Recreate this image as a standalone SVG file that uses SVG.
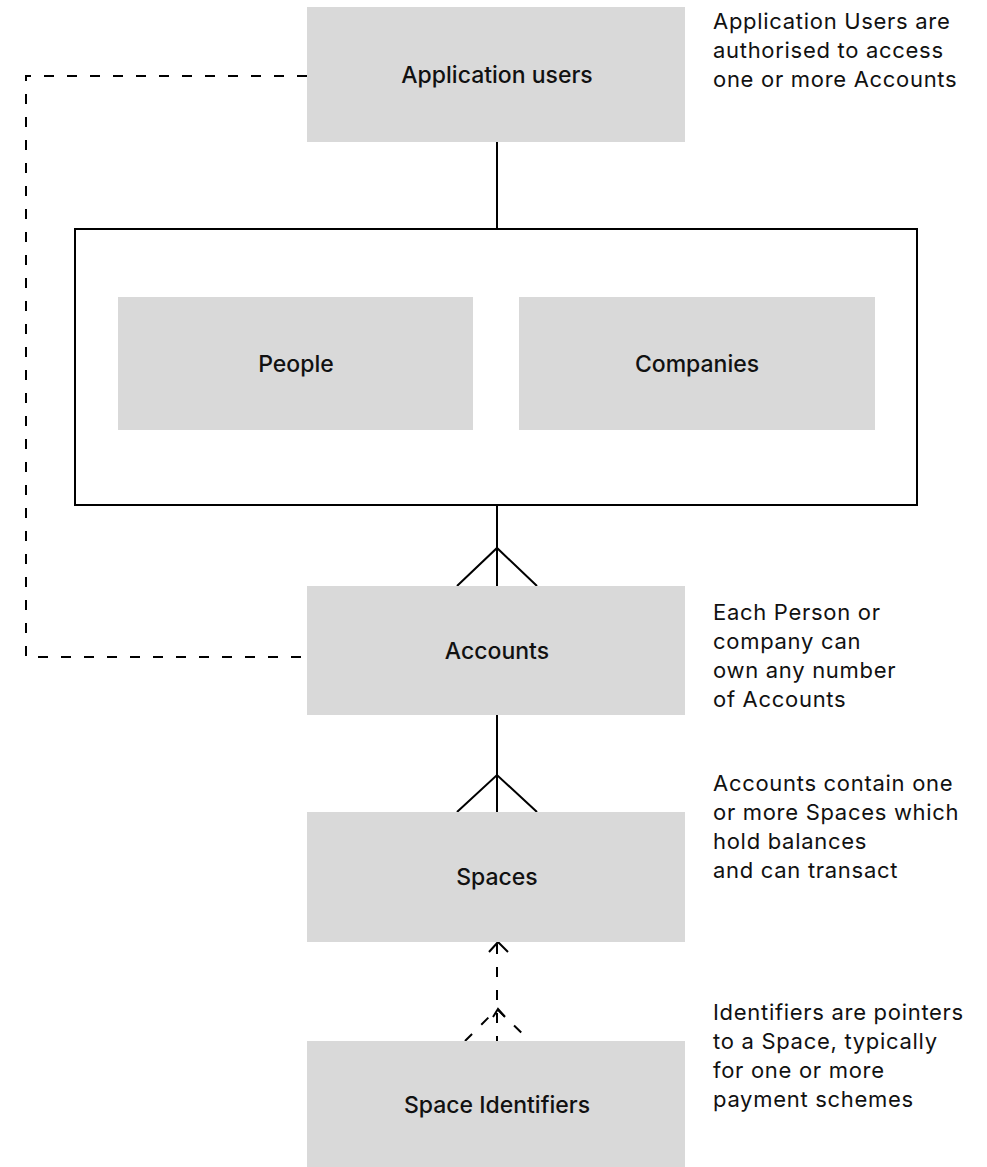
<svg xmlns="http://www.w3.org/2000/svg" width="987" height="1167" viewBox="0 0 987 1167">
<style>
.box{fill:#d9d9d9}
.lbl{font-family:Inter,"Liberation Sans",sans-serif;font-size:23px;font-weight:500;fill:#111;text-anchor:middle;dominant-baseline:central}
.desc{font-family:Inter,"Liberation Sans",sans-serif;font-size:22px;font-weight:400;letter-spacing:0.7px;fill:#111}
.ln{fill:none;stroke:#000;stroke-width:2}
.dash{fill:none;stroke:#000;stroke-width:2;stroke-dasharray:10 13}
</style>
<rect width="987" height="1167" fill="#fff"/>
<g id="connectors">
<path class="dash" d="M307 76 H26 V657 H307"/>
<path class="ln" d="M497 142 V229"/>
<path class="ln" d="M497 505 V586 M457 586 L497 548 L537 586"/>
<path class="ln" d="M497 715 V812 M457 812 L497 775 L537 812"/>
<path class="dash" d="M497 944 V1041" stroke-dasharray="10 8"/>
<path class="dash" d="M465 1041 L497 1009 L530 1041" stroke-dasharray="9 8"/>
<path class="ln" d="M489 952 L498 942 L508 952"/>
<path class="ln" d="M493 1017 L498 1009 L505 1017"/>
</g>
<g id="app-users">
<rect class="box" x="307" y="7" width="378" height="135"/>
<text class="lbl" x="497" y="75">Application users</text>
<text class="desc" x="713" y="29">Application Users are</text>
<text class="desc" x="713" y="58">authorised to access</text>
<text class="desc" x="713" y="87">one or more Accounts</text>
</g>
<g id="owners">
<rect class="ln" x="75" y="229" width="842" height="276"/>
</g>
<g id="people">
<rect class="box" x="118" y="297" width="355" height="133"/>
<text class="lbl" x="296" y="364">People</text>
</g>
<g id="companies">
<rect class="box" x="519" y="297" width="356" height="133"/>
<text class="lbl" x="697" y="364">Companies</text>
</g>
<g id="accounts">
<rect class="box" x="307" y="586" width="378" height="129"/>
<text class="lbl" x="497" y="651">Accounts</text>
<text class="desc" x="713" y="620">Each Person or</text>
<text class="desc" x="713" y="649">company can</text>
<text class="desc" x="713" y="678">own any number</text>
<text class="desc" x="713" y="707">of Accounts</text>
</g>
<g id="spaces">
<rect class="box" x="307" y="812" width="378" height="130"/>
<text class="lbl" x="497" y="877">Spaces</text>
<text class="desc" x="713" y="791">Accounts contain one</text>
<text class="desc" x="713" y="820">or more Spaces which</text>
<text class="desc" x="713" y="849">hold balances</text>
<text class="desc" x="713" y="878">and can transact</text>
</g>
<g id="space-identifiers">
<rect class="box" x="307" y="1041" width="378" height="126"/>
<text class="lbl" x="497" y="1105">Space Identifiers</text>
<text class="desc" x="713" y="1020">Identifiers are pointers</text>
<text class="desc" x="713" y="1049">to a Space, typically</text>
<text class="desc" x="713" y="1078">for one or more</text>
<text class="desc" x="713" y="1107">payment schemes</text>
</g>
</svg>
